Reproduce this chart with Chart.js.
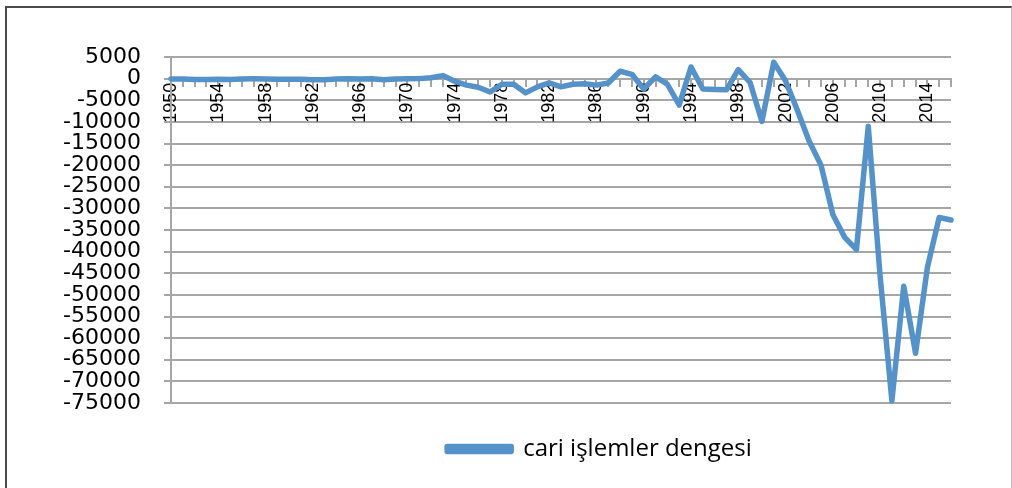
<!DOCTYPE html>
<html>
<head>
<meta charset="utf-8">
<script src="https://cdn.jsdelivr.net/npm/chart.js@4.4.1/dist/chart.umd.min.js"></script>
<style>
  html, body { margin: 0; padding: 0; background: #fff; }
  #wrap { position: relative; width: 1012px; height: 488px; overflow: hidden; }
  #frame {
    position: absolute; left: 5px; top: 6px; width: 1004px; height: 500px;
    border-top: 2px solid #4a4a4a; border-left: 2px solid #4a4a4a; border-right: 1px solid #bdbdbd;
    pointer-events: none;
  }
  canvas { position: absolute; left: 0; top: 0; }
</style>
</head>
<body>
<div id="wrap">
  <canvas id="caChart" width="1012" height="488"></canvas>
  <div id="frame"></div>
</div>
<script>
const years = [
  "1950","1951","1952","1953","1954","1955","1956","1957","1958","1959",
  "1960","1961","1962","1963","1964","1965","1966","1967","1968","1969",
  "1970","1971","1972","1973","1974","1975","1976","1977","1978","1979",
  "1980","1981","1982","1983","1984","1985","1986","1987","1988","1989",
  "1990","1991","1992","1993","1994","1995","1996","1997","1998","1999",
  "2000","2001","2002","2003","2004","2005","2006","2007","2008","2009",
  "2010","2011","2012","2013","2014","2015","2016"
];

// cari işlemler dengesi
const cariIslemler = [
  -60, -110, -190, -190, -150, -200, -60, -50, -100, -150,
  -140, -120, -250, -280, -110, -50, -110, -40, -250, -80,
  -40, 0, 200, 700, -600, -1500, -2000, -3100, -1300, -1300,
  -3300, -1900, -1000, -1900, -1300, -1200, -1500, -1000, 1700, 1000,
  -2400, 400, -1300, -6100, 2700, -2400, -2500, -2600, 2100, -900,
  -9900, 3800, -500, -7300, -14500, -20000, -31400, -36700, -39500, -11000,
  -45600, -74500, -48000, -63500, -43700, -32100, -32700
];

const yMin = -75000;
const yMax = 5000;
const yStep = 5000;
const labelEvery = 4;

const LEGEND_SHIFT = 124;

const shiftLegend = {
  id: "shiftLegend",
  afterLayout(chart) {
    chart.legend.left += LEGEND_SHIFT;
    chart.legend.right += LEGEND_SHIFT;
  },
};

Chart.defaults.color = "#000";

const ctx = document.getElementById("caChart").getContext("2d");

const chart = new Chart(ctx, {
  type: "line",
  data: {
    labels: years,
    datasets: [
      {
        label: "cari işlemler dengesi",
        data: cariIslemler,
        borderColor: "#5592c9",
        backgroundColor: "#5592c9",
        borderWidth: 5.5,
        borderJoinStyle: "round",
        borderCapStyle: "round",
        pointRadius: 0,
        tension: 0,
        fill: false,
        clip: false,
      },
    ],
  },
  options: {
    responsive: false,
    animation: false,
    layout: {
      padding: { left: 0, right: 61, top: 57, bottom: 17 },
    },
    plugins: {
      tooltip: { enabled: false },
      legend: {
        position: "bottom",
        labels: {
          boxWidth: 64,
          boxHeight: 5,
          padding: 34,
          font: { family: "Open Sans", size: 24 },
          color: "#000",
        },
      },
    },
    scales: {
      x: {
        position: { y: 0 },
        offset: false,
        grid: {
          drawOnChartArea: false,
          drawTicks: true,
          tickLength: 7,
          color: "#a6a6a6",
          lineWidth: 2,
        },
        border: { display: true, color: "#a6a6a6", width: 2 },
        ticks: {
          autoSkip: false,
          maxRotation: 90,
          minRotation: 90,
          padding: -3,
          font: { family: "Liberation Sans", size: 18 },
          callback: function (value, index) {
            return index % labelEvery === 0 ? years[index] : "";
          },
        },
      },
      y: {
        min: yMin,
        max: yMax,
        afterFit: function (scale) {
          scale.width = 171;
        },
        grid: {
          color: "#a6a6a6",
          lineWidth: 2,
          tickLength: 7,
        },
        border: { display: true, color: "#a6a6a6", width: 2 },
        ticks: {
          stepSize: yStep,
          autoSkip: false,
          padding: 23,
          font: { family: "DejaVu Sans", size: 22 },
          callback: function (value) {
            return String(value);
          },
        },
      },
    },
  },
  plugins: [shiftLegend],
});
</script>
</body>
</html>
